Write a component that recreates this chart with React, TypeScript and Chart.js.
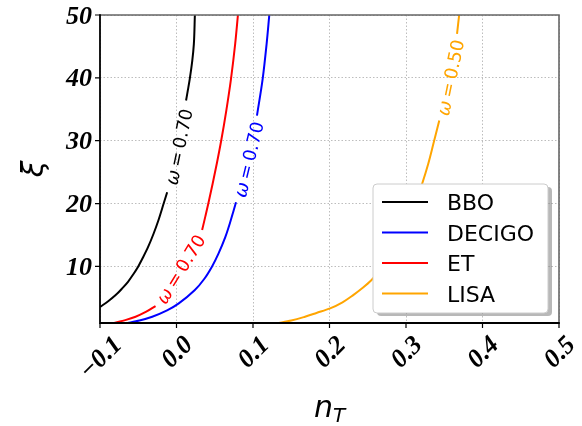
import React, { useEffect, useRef } from "react";
import { Chart, registerables } from "chart.js";
Chart.register(...registerables);

const xTicks = [-0.1, 0.0, 0.1, 0.2, 0.3, 0.4, 0.5];
const xTickLabels = ["\u22120.1", "0.0", "0.1", "0.2", "0.3", "0.4", "0.5"];
const yTicks = [10, 20, 30, 40, 50];
const yTickLabels = ["10", "20", "30", "40", "50"];
const xMin = -0.1, xMax = 0.5, yMin = 1, yMax = 50;

const seriesNames = ["BBO", "DECIGO", "ET", "LISA"];
const seriesColors = ["#000000", "#0000ff", "#ff0000", "#ffa500"];
const contourOmega = ["ω", "ω", "ω", "ω"];
const contourValues = ["0.70", "0.70", "0.70", "0.50"];

// null marks the gap where the contour label sits
const bboXi = [3.55, 4.5, 5.44, 6.5, 7.56, 8.8, 10.0, 11.5, 13.1, 15.2, 17.35, 20.0, 21.8, null, 36.4, 38.0, 39.8, 42.7, 45.4, 50];
const bboN = [-0.1, -0.0889, -0.0795, -0.071, -0.0634, -0.0562, -0.05, -0.0435, -0.0371, -0.03, -0.0236, -0.0168, -0.0122, null, 0.0125, 0.0148, 0.0173, 0.0206, 0.0227, 0.024];
const decigoXi = [0.95, 1.4, 2.0, 3.0, 4.13, 6.24, 8.0, 10.0, 12.0, 14.7, 16.8, 18.9, 20.2, null, 34.0, 39.8, 45.4, 50];
const decigoN = [-0.0665, -0.0484, -0.0317, -0.0123, 0.003, 0.024, 0.0362, 0.0465, 0.0547, 0.0639, 0.0696, 0.0747, 0.0778, null, 0.1052, 0.1126, 0.1178, 0.1213];
const etXi = [0.95, 1.5, 2.0, 2.8, 3.7, null, 15.8, 18.0, 20.0, 23.2, 26.5, 30.0, 34.8, 39.8, 45.4, 50];
const etN = [-0.0839, -0.066, -0.0535, -0.0395, -0.0274, null, 0.0335, 0.0378, 0.0416, 0.0473, 0.0529, 0.0584, 0.0651, 0.0712, 0.0767, 0.0803];
const lisaXi = [0.95, 1.4, 2.0, 2.6, 3.33, 4.3, 5.44, 6.6, 7.83, 10.0, 12.5, 15.0, 18.0, 20.5, 23.2, 26.3, 29.5, 33.2, null, 47.0, 50];
const lisaN = [0.131, 0.15, 0.168, 0.183, 0.2008, 0.217, 0.231, 0.2435, 0.255, 0.27, 0.2835, 0.2945, 0.3055, 0.3135, 0.3212, 0.329, 0.3358, 0.3435, null, 0.3667, 0.3695];

const seriesN = [bboN, decigoN, etN, lisaN];
const seriesXi = [bboXi, decigoXi, etXi, lisaXi];

const TICK_FONT = "italic bold 26px 'Liberation Serif'";
const LEGEND_FONT = "22px 'DejaVu Sans'";

const overlay = {
  id: "overlay",
  afterDatasetsDraw(chart: any) {
    const ctx = chart.ctx;
    const xs = chart.scales.x, ys = chart.scales.y;
    chart.data.datasets.forEach((ds: any, di: number) => {
      const data = ds.data;
      const gi = data.findIndex((p: any) => p.y === null);
      if (gi < 1) return;
      const a = data[gi - 1], b = data[gi + 1];
      const x1 = xs.getPixelForValue(a.x), y1 = ys.getPixelForValue(a.y);
      const x2 = xs.getPixelForValue(b.x), y2 = ys.getPixelForValue(b.y);
      const ang = Math.atan2(y2 - y1, x2 - x1);
      const nx = -Math.sin(ang), ny = Math.cos(ang);
      const cx = (x1 + x2) / 2 + nx * 2, cy = (y1 + y2) / 2 + ny * 2;
      ctx.save();
      ctx.translate(cx, cy);
      ctx.rotate(ang);
      ctx.fillStyle = ds.borderColor;
      ctx.textBaseline = "alphabetic";
      const f1 = "italic 18px 'DejaVu Sans'";
      const f2 = "18px 'DejaVu Sans'";
      const t1 = contourOmega[di];
      const t2 = "\u2009=\u2009" + contourValues[di];
      ctx.font = f1;
      const w1 = ctx.measureText(t1).width;
      ctx.font = f2;
      const w2 = ctx.measureText(t2).width;
      const start = -(w1 + w2) / 2;
      const base = 6.5;
      ctx.font = f1;
      ctx.textAlign = "left";
      ctx.fillText(t1, start, base);
      ctx.font = f2;
      ctx.fillText(t2, start + w1, base);
      ctx.restore();
    });
  },
  afterDraw(chart: any) {
    const ctx = chart.ctx;
    const { left, right, top, bottom } = chart.chartArea;
    const xs = chart.scales.x, ys = chart.scales.y;
    ctx.save();
    // spines
    ctx.lineCap = "butt";
    ctx.lineWidth = 1.6;
    ctx.strokeStyle = "#666666";
    ctx.beginPath();
    ctx.moveTo(left, top);
    ctx.lineTo(right, top);
    ctx.lineTo(right, bottom);
    ctx.stroke();
    ctx.strokeStyle = "#000000";
    ctx.lineWidth = 1.8;
    ctx.beginPath();
    ctx.moveTo(left, top - 0.8);
    ctx.lineTo(left, bottom);
    ctx.lineTo(right + 0.8, bottom);
    ctx.stroke();
    // tick marks
    ctx.lineWidth = 1.2;
    ctx.beginPath();
    yTicks.forEach((v) => {
      const y = ys.getPixelForValue(v);
      ctx.moveTo(left - 5, y);
      ctx.lineTo(left, y);
    });
    xTicks.forEach((v) => {
      const x = xs.getPixelForValue(v);
      ctx.moveTo(x, bottom);
      ctx.lineTo(x, bottom + 5);
    });
    ctx.stroke();
    // y tick labels
    ctx.fillStyle = "#000";
    ctx.font = TICK_FONT;
    ctx.textAlign = "right";
    ctx.textBaseline = "alphabetic";
    yTicks.forEach((v, i) => {
      const y = ys.getPixelForValue(v);
      ctx.fillText(yTickLabels[i], left - 8, y + 8.5);
    });
    // x tick labels rotated 45°, centred on tick
    xTicks.forEach((v, i) => {
      const x = xs.getPixelForValue(v);
      const txt = xTickLabels[i];
      const w = ctx.measureText(txt).width;
      const h = 17;
      const bh = (w + h) / Math.SQRT2;
      ctx.save();
      ctx.translate(x, bottom + 11 + bh / 2);
      ctx.rotate(-Math.PI / 4);
      ctx.textAlign = "center";
      ctx.fillText(txt, 0, h / 2);
      ctx.restore();
    });
    // x axis title n_T
    const cxm = (left + right) / 2;
    ctx.font = "italic 30px 'DejaVu Sans'";
    const wn = ctx.measureText("n").width;
    ctx.font = "italic 20px 'DejaVu Sans'";
    const wt = ctx.measureText("T").width;
    const sx = cxm - (wn + wt) / 2;
    ctx.textAlign = "left";
    ctx.font = "italic 30px 'DejaVu Sans'";
    ctx.fillText("n", sx, 417);
    ctx.font = "italic 20px 'DejaVu Sans'";
    ctx.fillText("T", sx + wn, 422);
    // y axis title ξ
    ctx.save();
    ctx.translate(43, (top + bottom) / 2);
    ctx.rotate(-Math.PI / 2);
    ctx.font = "italic 30px 'DejaVu Sans'";
    ctx.textAlign = "center";
    ctx.fillText("ξ", 0, 0);
    ctx.restore();
    // legend
    const lx0 = right - 186, lx1 = right - 11;
    const ly0 = bottom - 139, ly1 = bottom - 10;
    const rr = 4;
    const rrect = (x0: number, y0: number, x1: number, y1: number) => {
      ctx.beginPath();
      ctx.moveTo(x0 + rr, y0);
      ctx.lineTo(x1 - rr, y0);
      ctx.quadraticCurveTo(x1, y0, x1, y0 + rr);
      ctx.lineTo(x1, y1 - rr);
      ctx.quadraticCurveTo(x1, y1, x1 - rr, y1);
      ctx.lineTo(x0 + rr, y1);
      ctx.quadraticCurveTo(x0, y1, x0, y1 - rr);
      ctx.lineTo(x0, y0 + rr);
      ctx.quadraticCurveTo(x0, y0, x0 + rr, y0);
      ctx.closePath();
    };
    rrect(lx0 + 4, ly0 + 3, lx1 + 4, ly1 + 3);
    ctx.fillStyle = "rgba(0,0,0,0.28)";
    ctx.fill();
    rrect(lx0, ly0, lx1, ly1);
    ctx.fillStyle = "#ffffff";
    ctx.fill();
    ctx.strokeStyle = "#cccccc";
    ctx.lineWidth = 1;
    ctx.stroke();
    ctx.font = LEGEND_FONT;
    ctx.textAlign = "left";
    ctx.textBaseline = "alphabetic";
    seriesNames.forEach((name, i) => {
      const y = ly0 + 18 + i * 30.5;
      ctx.strokeStyle = seriesColors[i];
      ctx.lineWidth = 2;
      ctx.beginPath();
      ctx.moveTo(lx0 + 9, y);
      ctx.lineTo(lx0 + 55, y);
      ctx.stroke();
      ctx.fillStyle = "#000";
      ctx.fillText(name, lx0 + 74, y + 8);
    });
    ctx.restore();
  },
};

export default function App() {
  const ref = useRef<HTMLCanvasElement>(null);
  useEffect(() => {
    if (!ref.current) return;
    const datasets = seriesNames.map((name, i) => ({
      label: name,
      data: seriesN[i].map((n, j) => ({ x: n, y: seriesXi[i][j] })),
      borderColor: seriesColors[i],
      backgroundColor: seriesColors[i],
      borderWidth: 2,
      pointRadius: 0,
      cubicInterpolationMode: "monotone",
      spanGaps: false,
      fill: false,
    }));
    const gridOpts = { drawTicks: false, color: "#bdbdbd", lineWidth: 1 };
    const chart = new Chart(ref.current, {
      type: "line",
      data: { datasets: datasets as any },
      options: {
        animation: false,
        responsive: false,
        indexAxis: "y",
        layout: { padding: { left: 100, top: 15, right: 23, bottom: 103 } },
        plugins: { legend: { display: false }, tooltip: { enabled: false } },
        scales: {
          x: {
            type: "linear",
            position: "bottom",
            min: xMin,
            max: xMax,
            afterBuildTicks: (s: any) => {
              s.ticks = xTicks.map((v) => ({ value: v }));
            },
            ticks: { display: false },
            grid: gridOpts,
            border: { display: false, dash: [1.5, 2] },
          },
          y: {
            type: "linear",
            position: "left",
            min: yMin,
            max: yMax,
            afterBuildTicks: (s: any) => {
              s.ticks = yTicks.map((v) => ({ value: v }));
            },
            ticks: { display: false },
            grid: gridOpts,
            border: { display: false, dash: [1.5, 2] },
          },
        },
      } as any,
      plugins: [overlay],
    });
    return () => chart.destroy();
  }, []);
  return (
    <div style={{ position: "absolute", left: 0, top: 0, width: 582, height: 426, background: "#fff" }}>
      <canvas ref={ref} width={582} height={426} style={{ display: "block" }} />
    </div>
  );
}
